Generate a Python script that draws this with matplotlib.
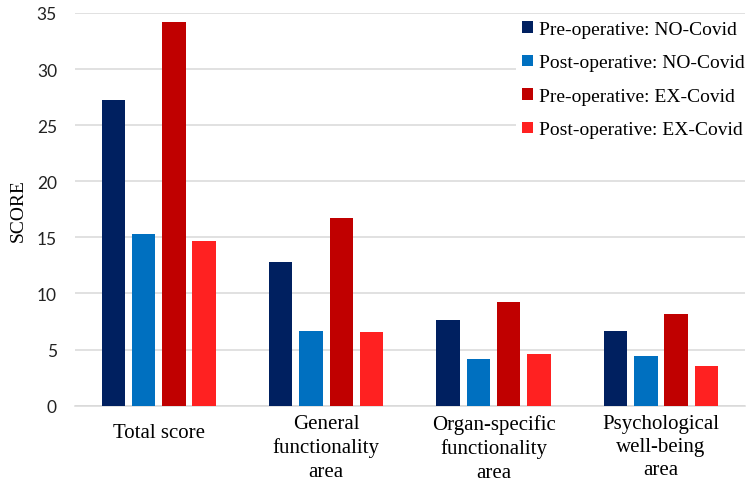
import matplotlib.pyplot as plt
import numpy as np
from matplotlib.patches import Patch

# data
categories = ["Total score", "General\nfunctionality\narea",
              "Organ-specific\nfunctionality\narea", "Psychological\nwell-being\narea"]
series_names = ["Pre-operative: NO-Covid", "Post-operative: NO-Covid",
                "Pre-operative: EX-Covid", "Post-operative: EX-Covid"]
pre_no_covid = [27.2, 12.8, 7.6, 6.7]
post_no_covid = [15.3, 6.7, 4.2, 4.4]
pre_ex_covid = [34.2, 16.7, 9.2, 8.2]
post_ex_covid = [14.7, 6.6, 4.6, 3.5]
y_ticks = [0, 5, 10, 15, 20, 25, 30, 35]

colors = ["#002060", "#0070C0", "#C00000", "#FF2121"]
serif = ["Liberation Serif", "DejaVu Serif"]

fig = plt.figure(figsize=(7.5, 4.81), dpi=100)
ax = fig.add_axes([0.1, 0.1545, 0.893, 0.8165])

x = np.arange(len(categories))
step = 0.181
width = 0.14
all_series = [pre_no_covid, post_no_covid, pre_ex_covid, post_ex_covid]
for i, vals in enumerate(all_series):
    ax.bar(x + (i - 1.5) * step, vals, width, color=colors[i], zorder=3,
           label=series_names[i])

ax.set_xlim(-0.5, len(categories) - 0.5)
ax.set_ylim(0, 35)
ax.set_yticks(y_ticks)
ax.yaxis.grid(True, color="#D9D9D9", linewidth=1.1, zorder=0)
ax.set_axisbelow(True)
for side in ["left", "right", "top"]:
    ax.spines[side].set_visible(False)
ax.spines["bottom"].set_color("#D9D9D9")
ax.spines["bottom"].set_linewidth(1.1)

ax.tick_params(axis="y", length=0, pad=13, labelsize=12.5, labelcolor="#222222")
for lab in ax.get_yticklabels():
    lab.set_family(["Lato", "DejaVu Sans"])
ax.set_xticks(x)
ax.set_xticklabels(categories, family=serif, fontsize=15, linespacing=1.3)
ax.tick_params(axis="x", length=0, pad=6)
ax.get_xticklabels()[0].set_y(-0.022)

ax.set_ylabel("SCORE", family=serif, fontsize=14, labelpad=7)

handles = [Patch(facecolor=c, edgecolor="none") for c in colors]
leg = ax.legend(handles, series_names, loc="upper right",
                bbox_to_anchor=(1.008, 0.995), prop={"family": serif, "size": 14},
                handlelength=0.55, handleheight=0.55, handletextpad=0.3,
                labelspacing=0.85, borderpad=0.3, borderaxespad=0,
                frameon=True, fancybox=False, framealpha=1)
leg.get_frame().set_edgecolor("none")
leg.get_frame().set_facecolor("white")
leg.set_zorder(5)

fig.savefig("out.png", dpi=100)
